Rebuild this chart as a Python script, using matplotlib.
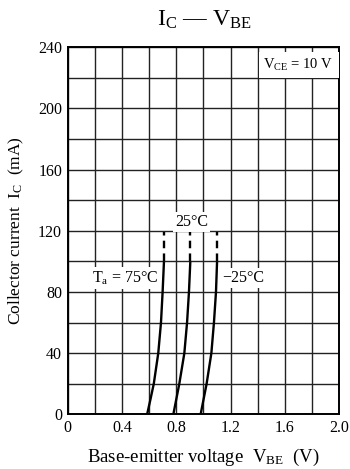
import numpy as np
import matplotlib
matplotlib.use("Agg")
import matplotlib.pyplot as plt

plt.rcParams['font.family'] = ['Liberation Serif', 'DejaVu Serif']
plt.rcParams['mathtext.fontset'] = 'custom'
plt.rcParams['mathtext.rm'] = 'Liberation Serif'
plt.rcParams['mathtext.it'] = 'Liberation Serif:italic'

# collector current points (mA)
ic_solid = [0, 10, 20, 40, 60, 80, 100]
ic_dash = [100, 119]

# base-emitter voltage (V) for each ambient temperature
vbe_75 = [0.585, 0.610, 0.634, 0.667, 0.687, 0.699, 0.709]
vbe_25 = [0.778, 0.800, 0.822, 0.859, 0.879, 0.893, 0.903]
vbe_m25 = [0.979, 1.001, 1.023, 1.058, 1.077, 1.092, 1.100]

x_ticks = [0, 0.4, 0.8, 1.2, 1.6, 2.0]
x_ticklabels = ['0', '0.4', '0.8', '1.2', '1.6', '2.0']
y_ticks = [0, 40, 80, 120, 160, 200, 240]

fig = plt.figure(figsize=(3.5, 4.69), dpi=100)
ax = fig.add_axes([0.1934, 0.1166, 0.776, 0.7825])

ax.set_xlim(0, 2.0)
ax.set_ylim(0, 240)
ax.set_xticks(np.arange(0, 2.01, 0.2), minor=True)
ax.set_yticks(np.arange(0, 241, 20), minor=True)
ax.set_xticks(x_ticks)
ax.set_xticklabels(x_ticklabels)
ax.set_yticks(y_ticks)
ax.grid(True, which='both', color='#222222', linewidth=1.0)
ax.tick_params(which='both', length=0, labelsize=11.5, pad=4)
for s in ax.spines.values():
    s.set_linewidth(1.4)

for v in (vbe_75, vbe_25, vbe_m25):
    ax.plot(v, ic_solid, color='black', lw=1.7, solid_capstyle='butt', zorder=3)
    ax.plot([v[-1], v[-1]], ic_dash, color='black', lw=1.7,
            linestyle=(0, (3.2, 2.2)), dash_capstyle='butt', zorder=3)

box = dict(facecolor='white', edgecolor='none', pad=1.5)
ax.text(0.422, 89, r'$\mathrm{T_a}$ = 75°C', fontsize=11.5, ha='center', va='center',
        bbox=box, zorder=4)
ax.text(0.913, 125.5, '25°C', fontsize=11.5, ha='center', va='center',
        bbox=box, zorder=4)
ax.text(1.295, 89, '\u221225°C', fontsize=11.5, ha='center', va='center',
        bbox=box, zorder=4)
ax.text(1.70, 228.5, r'$\mathrm{V_{CE}}$ = 10 V', fontsize=10.5, ha='center', va='center',
        bbox=dict(facecolor='white', edgecolor='none', pad=3.5), zorder=4)

ax.set_xlabel(r'Base-emitter voltage  $\mathrm{V_{BE}}$  (V)', fontsize=13.5)
ax.set_ylabel(r'Collector current  $\mathrm{I_C}$  (mA)', fontsize=12.5)
ax.xaxis.set_label_coords(0.5, -0.089)
ax.yaxis.set_label_coords(-0.153, 0.5)
fig.text(0.585, 0.957, r'$\mathrm{I_C}$ — $\mathrm{V_{BE}}$', fontsize=17,
         ha='center', va='center')

fig.savefig('out.png', dpi=100, facecolor='white')
